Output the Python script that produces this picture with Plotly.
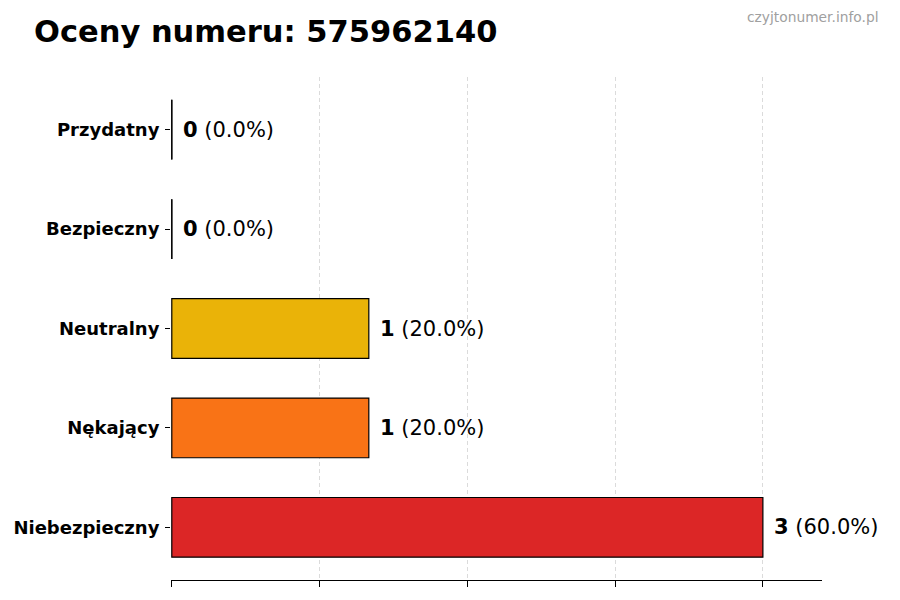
import plotly.graph_objects as go

# Data (bottom to top, as drawn)
categories = ["Niebezpieczny", "Nękający", "Neutralny", "Bezpieczny", "Przydatny"]
counts = [3, 1, 1, 0, 0]
colors = ["#dc2626", "#f97316", "#eab308", "#22c55e", "#3b82f6"]
x_ticks = [0, 0.75, 1.5, 2.25, 3]
phone_number = "575962140"
watermark = "czyjtonumer.info.pl"

total = sum(counts)
W, H = 900, 600
left, right, top, bottom = 171, 78, 77, 20
bar_w = 0.6

fig = go.Figure()
fig.add_trace(go.Bar(
    x=counts,
    y=categories,
    orientation="h",
    width=bar_w,
    marker=dict(color=colors, line=dict(color="black", width=1.2)),
    hoverinfo="skip",
))

# zero-length bars still show their outline, like matplotlib does
for i, v in enumerate(counts):
    if v == 0:
        fig.add_shape(type="line", xref="x", yref="y",
                      x0=v, x1=v, y0=i - bar_w / 2, y1=i + bar_w / 2,
                      line=dict(color="black", width=1.2))

# value labels
for cat, v in zip(categories, counts):
    pct = v / total * 100 if total else 0
    fig.add_annotation(
        x=v, y=cat, xref="x", yref="y",
        text=f"<b>{v}</b> ({pct:.1f}%)",
        showarrow=False, xanchor="left", yanchor="middle", xshift=9,
        font=dict(family="DejaVu Sans", size=21, color="black"),
    )

pw = W - left - right
ph = H - top - bottom
fig.add_annotation(
    xref="paper", yref="paper",
    x=(881 - left) / pw, y=(H - bottom - 17) / ph,
    text=watermark, showarrow=False, xanchor="right", yanchor="middle",
    font=dict(family="DejaVu Sans", size=13.8, color="#a0a0a0"),
)

fig.update_layout(
    width=W, height=H,
    margin=dict(l=left, r=right, t=top, b=bottom),
    paper_bgcolor="white", plot_bgcolor="white",
    showlegend=False,
    title=dict(
        text=f"<b>Oceny numeru: {phone_number}</b>",
        x=34 / W, xanchor="left", xref="container",
        y=1 - 31 / H, yanchor="middle", yref="container",
        font=dict(family="DejaVu Sans", size=30.5, color="black"),
    ),
    font=dict(family="DejaVu Sans", color="black"),
)
fig.update_xaxes(
    range=[-0.004, max(counts) * 1.1],
    tickvals=x_ticks, showticklabels=False,
    ticks="outside", ticklen=6, tickcolor="black", tickwidth=1,
    showline=True, linecolor="black", linewidth=1,
    showgrid=True, gridcolor="rgba(190,190,190,0.55)", griddash="4px,3px", gridwidth=1,
    zeroline=False, layer="above traces",
)
fig.update_yaxes(
    type="category", categoryorder="array", categoryarray=categories,
    range=[-0.53, len(categories) - 0.47],
    ticks="outside", ticklen=5, tickcolor="black", tickwidth=1,
    showline=False, showgrid=False, zeroline=False,
    tickfont=dict(family="DejaVu Sans", size=18, color="black", weight="bold"),
    ticklabelstandoff=2,
)

fig.write_html("out.html", config={"displayModeBar": False},
               post_script="document.body.style.margin='0';")
